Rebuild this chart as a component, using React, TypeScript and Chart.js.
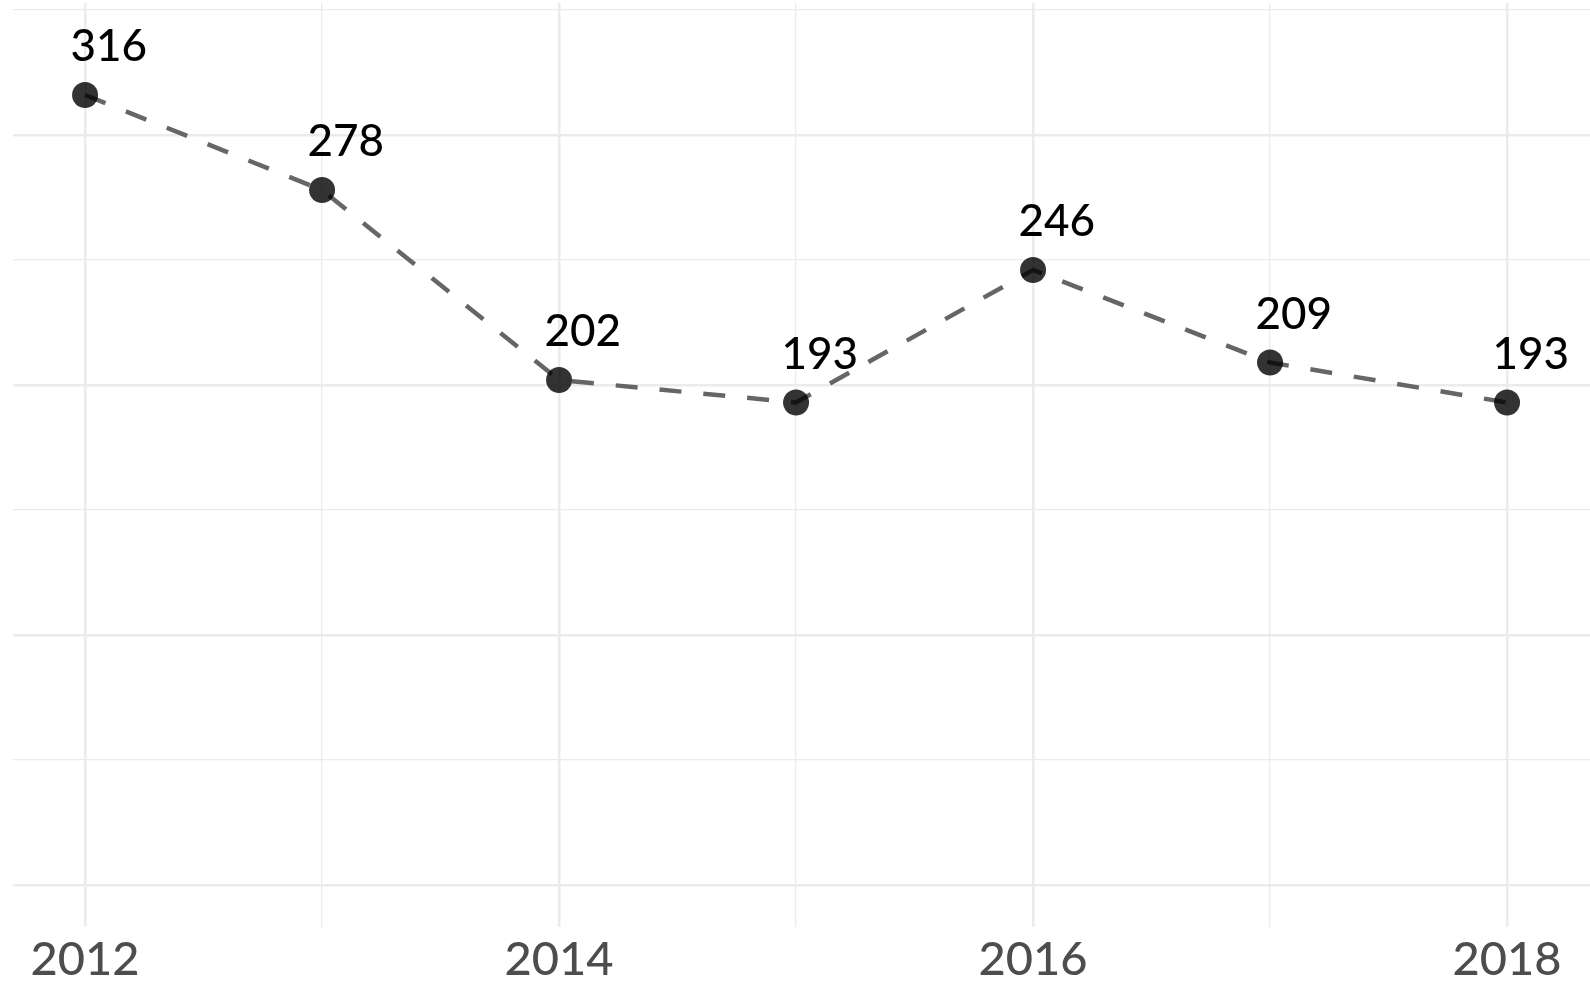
import React, { useEffect, useRef } from "react";
import { Chart, registerables } from "chart.js";

Chart.register(...registerables);

const years = [2012, 2013, 2014, 2015, 2016, 2017, 2018];
const values = [316, 278, 202, 193, 246, 209, 193];
const xTickYears = [2012, 2013, 2014, 2015, 2016, 2017, 2018];
const yTickValues = [0, 50, 100, 150, 200, 250, 300, 350];

const FONT = "Lato, 'Open Sans', sans-serif";

const labelPlugin = {
  id: "pointLabels",
  afterDatasetsDraw(chart: any) {
    const ctx = chart.ctx;
    const xs = chart.scales.x;
    const ys = chart.scales.y;
    ctx.save();
    ctx.fillStyle = "#000000";
    ctx.font = `500 44px ${FONT}`;
    ctx.textAlign = "center";
    ctx.textBaseline = "alphabetic";
    years.forEach((yr, i) => {
      const px = xs.getPixelForValue(yr + 0.1);
      const py = ys.getPixelForValue(values[i] + 13.5);
      ctx.fillText(String(values[i]), px, py);
    });
    ctx.restore();
  },
};

export default function App() {
  const ref = useRef<HTMLCanvasElement | null>(null);
  useEffect(() => {
    document.body.style.margin = "0";
    const canvas = ref.current!;
    const chart = new Chart(canvas, {
      type: "line",
      data: {
        datasets: [
          {
            data: years.map((x, i) => ({ x, y: values[i] })),
            borderColor: "#666666",
            borderWidth: 4.5,
            borderDash: [22, 22],
            borderCapStyle: "butt",
            tension: 0,
            fill: false,
            pointRadius: 13,
            pointHoverRadius: 13,
            pointBackgroundColor: "rgba(0,0,0,0.8)",
            pointBorderWidth: 0,
            pointBorderColor: "rgba(0,0,0,0)",
          },
        ],
      },
      options: {
        animation: false,
        responsive: false,
        maintainAspectRatio: false,
        layout: { autoPadding: false, padding: { left: 13, right: 0, top: 3, bottom: 0 } },
        plugins: {
          legend: { display: false },
          tooltip: { enabled: false },
        },
        scales: {
          x: {
            type: "linear",
            min: 2011.696,
            max: 2018.35,
            afterBuildTicks: (scale: any) => {
              scale.ticks = xTickYears.map((v) => ({ value: v }));
            },
            afterFit: (scale: any) => {
              scale.height = 57;
            },
            border: { display: false },
            grid: {
              color: "#EBEBEB",
              lineWidth: (c: any) =>
                c.tick && c.tick.value % 2 === 0 ? 2.5 : 1.3,
              drawTicks: false,
            },
            ticks: {
              padding: 5,
              color: "#4D4D4D",
              font: { family: FONT, size: 47, weight: "500" },
              autoSkip: false,
              maxRotation: 0,
              callback: (v: any) => (Number(v) % 2 === 0 ? String(v) : ""),
            },
          },
          y: {
            type: "linear",
            min: -16.8,
            max: 352.8,
            afterBuildTicks: (scale: any) => {
              scale.ticks = yTickValues.map((v) => ({ value: v }));
            },
            afterFit: (scale: any) => {
              scale.width = 0;
            },
            border: { display: false },
            grid: {
              color: "#EBEBEB",
              lineWidth: (c: any) =>
                c.tick && c.tick.value % 100 === 0 ? 2.5 : 1.3,
              drawTicks: false,
            },
            ticks: { display: false },
          },
        },
      },
      plugins: [labelPlugin],
    });
    return () => chart.destroy();
  }, []);
  return (
    <div style={{ position: "fixed", left: 0, top: 0, width: 1590, height: 984, background: "#fff" }}>
      <canvas ref={ref} width={1590} height={984} style={{ display: "block" }} />
    </div>
  );
}
